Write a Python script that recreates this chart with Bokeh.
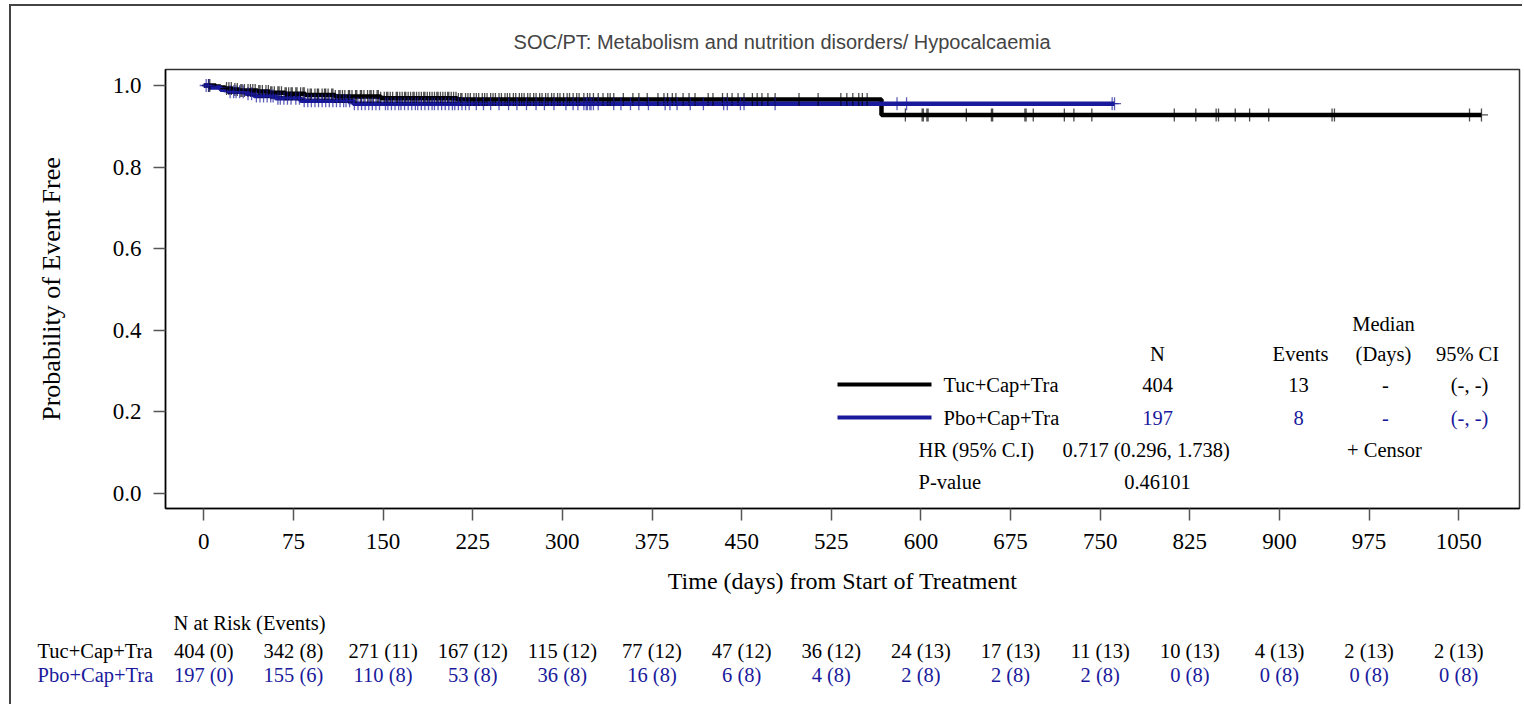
import numpy as np
from bokeh.plotting import figure
from bokeh.layouts import column
from bokeh.models import Range1d, FixedTicker, NumeralTickFormatter, Label
from bokeh.core.properties import value
from bokeh.embed import file_html
from bokeh.resources import INLINE

# ---------------- data ----------------
TITLE = "SOC/PT: Metabolism and nutrition disorders/ Hypocalcaemia"
X_LABEL = "Time (days) from Start of Treatment"
Y_LABEL = "Probability of Event Free"
RISK_TITLE = "N at Risk (Events)"
arms = ["Tuc+Cap+Tra", "Pbo+Cap+Tra"]
x_ticks = [0, 75, 150, 225, 300, 375, 450, 525, 600, 675, 750, 825, 900, 975, 1050]
y_ticks = [0.0, 0.2, 0.4, 0.6, 0.8, 1.0]

# Kaplan-Meier step curves (time, survival after step)
tuc_t = [0, 10, 14, 18, 24, 30, 45, 55, 68, 85, 110, 148, 212, 567, 1069]
tuc_s = [1.0, 0.9975, 0.995, 0.9925, 0.990, 0.9875, 0.985, 0.9825, 0.980,
         0.9765, 0.973, 0.969, 0.9655, 0.928, 0.928]
pbo_t = [0, 5, 14, 20, 35, 42, 60, 81, 125, 762]
pbo_s = [1.0, 0.9949, 0.9898, 0.9847, 0.9795, 0.9742, 0.9688, 0.9627, 0.9555, 0.9555]

# censoring times (days)
tuc_cens = [4, 5, 19, 21, 23, 26, 28, 31, 32, 34, 37, 39, 41, 43, 46, 47, 49, 52, 54, 56,
            57, 59, 62, 63, 65, 68, 69, 71, 73, 74,
            77, 78, 81, 83, 84, 87, 89, 90, 93, 95, 96, 99, 101, 102, 104, 107, 108, 110,
            113, 114, 116, 118, 121, 122, 124, 127, 128, 131, 132, 134, 137, 139, 140, 142,
            145, 146, 148,
            151, 153, 154, 156, 158, 161, 162, 164, 166, 168, 169, 171, 173, 175, 176, 178,
            180, 182, 184, 185, 187, 189, 191, 193, 195, 196, 198, 200, 202, 204, 205, 207,
            209, 211, 213, 215, 216, 219, 221, 223,
            226, 228, 230, 233, 235, 237, 240, 242, 244, 247, 249, 252, 254, 256, 259, 261,
            264, 266, 268, 271, 273, 276, 278, 281, 283, 286, 288, 291, 293, 296, 298,
            301, 304, 306, 309, 312, 314, 318, 321, 323, 326, 330, 334, 338, 340, 343, 351,
            359, 364, 371,
            380, 385, 388, 392, 395, 401, 406, 411, 422, 426, 434, 438, 442, 447,
            452, 459, 463, 467, 472, 478, 498, 514,
            533, 538, 543, 548, 551, 555, 587,
            601, 602, 605, 606, 638, 659, 660,
            687, 688, 694, 720, 728, 743,
            812, 830, 847, 849, 863, 875, 891, 944, 946, 1059, 1069]
pbo_cens = [2, 4, 22, 25, 27, 30, 33, 37, 40, 44, 47, 50, 53, 56, 58, 62, 64, 67, 70, 73,
            77, 80, 84, 87, 90, 93, 96, 99, 102, 105, 108, 111, 114, 117, 119, 122, 126,
            129, 132, 135, 138, 141, 144, 147,
            152, 154, 157, 160, 163, 165, 168, 171, 174, 177, 179, 182, 185, 188, 191, 193,
            196, 199, 202, 205, 208, 210, 213, 216, 219, 222,
            228, 234, 240, 247, 255, 262, 270, 278, 285, 293,
            303, 309, 313, 318, 320, 321, 323, 324, 326, 330, 343, 349, 357, 364, 372,
            386, 390, 396, 407, 418, 435, 438, 449,
            452, 478, 580, 588, 760, 762]

# numbers at risk (events) at each x tick
tuc_risk = [404, 342, 271, 167, 115, 77, 47, 36, 24, 17, 11, 10, 4, 2, 2]
tuc_ev = [0, 8, 11, 12, 12, 12, 12, 12, 13, 13, 13, 13, 13, 13, 13]
pbo_risk = [197, 155, 110, 53, 36, 16, 6, 4, 2, 2, 2, 0, 0, 0, 0]
pbo_ev = [0, 6, 8, 8, 8, 8, 8, 8, 8, 8, 8, 8, 8, 8, 8]

# summary statistics
n_pat = [404, 197]
n_events = [13, 8]
median_days = ["-", "-"]
median_ci = ["(-, -)", "(-, -)"]
hr_text = "0.717 (0.296, 1.738)"
p_text = "0.46101"

# ---------------- style / layout ----------------
BLACK = "#000000"
BLUE = "#1a1a9c"
SERIF = "Liberation Serif"
SANS = "Liberation Sans"
FS = "20.5px"

PX0, PY0 = 11, 6                         # page position of the plot canvas
W, H1, H2 = 1511, 606, 92
FL, FR, FT, FB = 165, 1519, 69, 508      # frame edges (page px)
X0, PPD = 203.3, 1.1952                  # page x of day 0, px per day
Y1, Y0 = 85.0, 493.0                     # page y of 1.0 and of 0.0
TITLE_SIZE = 20
TITLE_CENTER = 783
TITLE_WIDTH = 0.4735 * TITLE_SIZE * len(TITLE)


def dx(px):
    return (px - X0) / PPD


def dy(py):
    return (Y0 - py) / (Y0 - Y1)


p = figure(width=W, height=H1, output_backend="svg", toolbar_location=None,
           x_range=Range1d(dx(FL), dx(FR)), y_range=Range1d(dy(FB), dy(FT)),
           min_border_left=FL - PX0, min_border_right=PX0 + W - FR,
           min_border_top=FT - PY0, min_border_bottom=PY0 + H1 - FB)
p.xgrid.visible = False
p.ygrid.visible = False
p.outline_line_color = "#333333"
p.outline_line_width = 1.5

p.title.text = TITLE
p.title.text_font = SANS
p.title.text_font_size = f"{TITLE_SIZE}px"
p.title.text_font_style = "normal"
p.title.align = "left"
p.title.offset = TITLE_CENTER - TITLE_WIDTH / 2 - FL
p.title.standoff = 33

for ax in (p.xaxis[0], p.yaxis[0]):
    ax.major_tick_in = 0
    ax.major_tick_out = 12
    ax.minor_tick_line_color = None
    ax.major_tick_line_color = "#555555"
    ax.major_tick_line_width = 1.5
    ax.axis_line_color = BLACK
    ax.axis_line_width = 1.5
    ax.major_label_text_font = SERIF
    ax.major_label_text_font_size = "23px"
    ax.major_label_text_color = BLACK
    ax.axis_label_text_font = SERIF
    ax.axis_label_text_font_style = "normal"
    ax.axis_label_text_color = BLACK

p.xaxis.ticker = FixedTicker(ticks=x_ticks)
p.xaxis.major_label_standoff = 13
p.xaxis.axis_label = X_LABEL
p.xaxis.axis_label_text_font_size = "24px"
p.xaxis.axis_label_standoff = 16
p.yaxis.ticker = FixedTicker(ticks=y_ticks)
p.yaxis.formatter = NumeralTickFormatter(format="0.0")
p.yaxis.major_label_standoff = 12
p.yaxis.axis_label = Y_LABEL
p.yaxis.axis_label_text_font_size = "26px"
p.yaxis.axis_label_standoff = 44


def surv_at(ts, ss, times):
    idx = np.searchsorted(np.array(ts), np.array(times), side="right") - 1
    return np.array(ss)[idx]


# curves
p.step(x=tuc_t, y=tuc_s, mode="after", line_width=4.5, line_color=BLACK)
p.step(x=pbo_t, y=pbo_s, mode="after", line_width=4.5, line_color=BLUE)
p.scatter(x=tuc_cens, y=surv_at(tuc_t, tuc_s, tuc_cens), marker="cross", size=13,
          line_color=BLACK, line_alpha=0.7, line_width=1.3)
p.scatter(x=pbo_cens, y=surv_at(pbo_t, pbo_s, pbo_cens), marker="cross", size=13,
          line_color=BLUE, line_alpha=0.7, line_width=1.3)

# legend / statistics table (inside the frame)
colors = [BLACK, BLUE]
row_y = [384, 417]


def lab(px, py, text, align="center", color=BLACK):
    p.add_layout(Label(x=dx(px), y=dy(py), text=text, text_font=SERIF, text_font_size=FS,
                       text_align=align, text_baseline="middle", text_color=color))


lab(1383, 323, "Median")
lab(1157, 353, "N")
lab(1300, 353, "Events")
lab(1383, 353, "(Days)")
lab(1467, 353, "95% CI")
for i in range(2):
    p.segment(x0=[dx(837)], y0=[dy(row_y[i])], x1=[dx(931)], y1=[dy(row_y[i])],
              line_width=4, line_color=colors[i])
    lab(943, row_y[i], arms[i], align="left", color=BLACK)
    lab(1157, row_y[i], str(n_pat[i]), color=colors[i])
    lab(1298, row_y[i], str(n_events[i]), color=colors[i])
    lab(1385, row_y[i], median_days[i], color=colors[i])
    lab(1469, row_y[i], median_ci[i], color=colors[i])
lab(918, 449, "HR (95% C.I)", align="left")
lab(1062, 449, hr_text, align="left")
lab(1384, 449, "+ Censor")
lab(918, 481, "P-value", align="left")
lab(1157, 481, p_text)

# ---------------- numbers-at-risk table (second figure, same x scale) ----------------
TOP2 = PY0 + H1
t = figure(width=W, height=H2, output_backend="svg", toolbar_location=None,
           x_range=Range1d(dx(PX0), dx(PX0 + W)), y_range=Range1d(TOP2 + H2, TOP2),
           x_axis_location=None, y_axis_location=None,
           min_border_left=0, min_border_right=0, min_border_top=0, min_border_bottom=0)
t.xgrid.visible = False
t.ygrid.visible = False
t.outline_line_color = None
for fig in (p, t):
    if "frame_align" in fig.properties():
        fig.frame_align = False

t.text(x=[dx(173)], y=[622], text=[RISK_TITLE], text_font=value(SERIF),
       text_font_size=value(FS), text_align="left", text_baseline="middle", text_color=BLACK)
risk_rows = [(tuc_risk, tuc_ev), (pbo_risk, pbo_ev)]
risk_y = [650, 674]
for i, (nr, ev) in enumerate(risk_rows):
    t.text(x=[dx(37)], y=[risk_y[i]], text=[arms[i]], text_font=value(SERIF),
           text_font_size=value(FS), text_align="left", text_baseline="middle",
           text_color=colors[i])
    t.text(x=x_ticks, y=[risk_y[i]] * len(x_ticks),
           text=[f"{n} ({e})" for n, e in zip(nr, ev)], text_font=value(SERIF),
           text_font_size=value(FS), text_align="center", text_baseline="middle",
           text_color=colors[i])

layout = column(p, t, margin=(4, 0, 0, 9),
                styles={"border-left": "2px solid #444444", "border-top": "2px solid #444444"})

open("out.html", "w").write(file_html(layout, INLINE))
